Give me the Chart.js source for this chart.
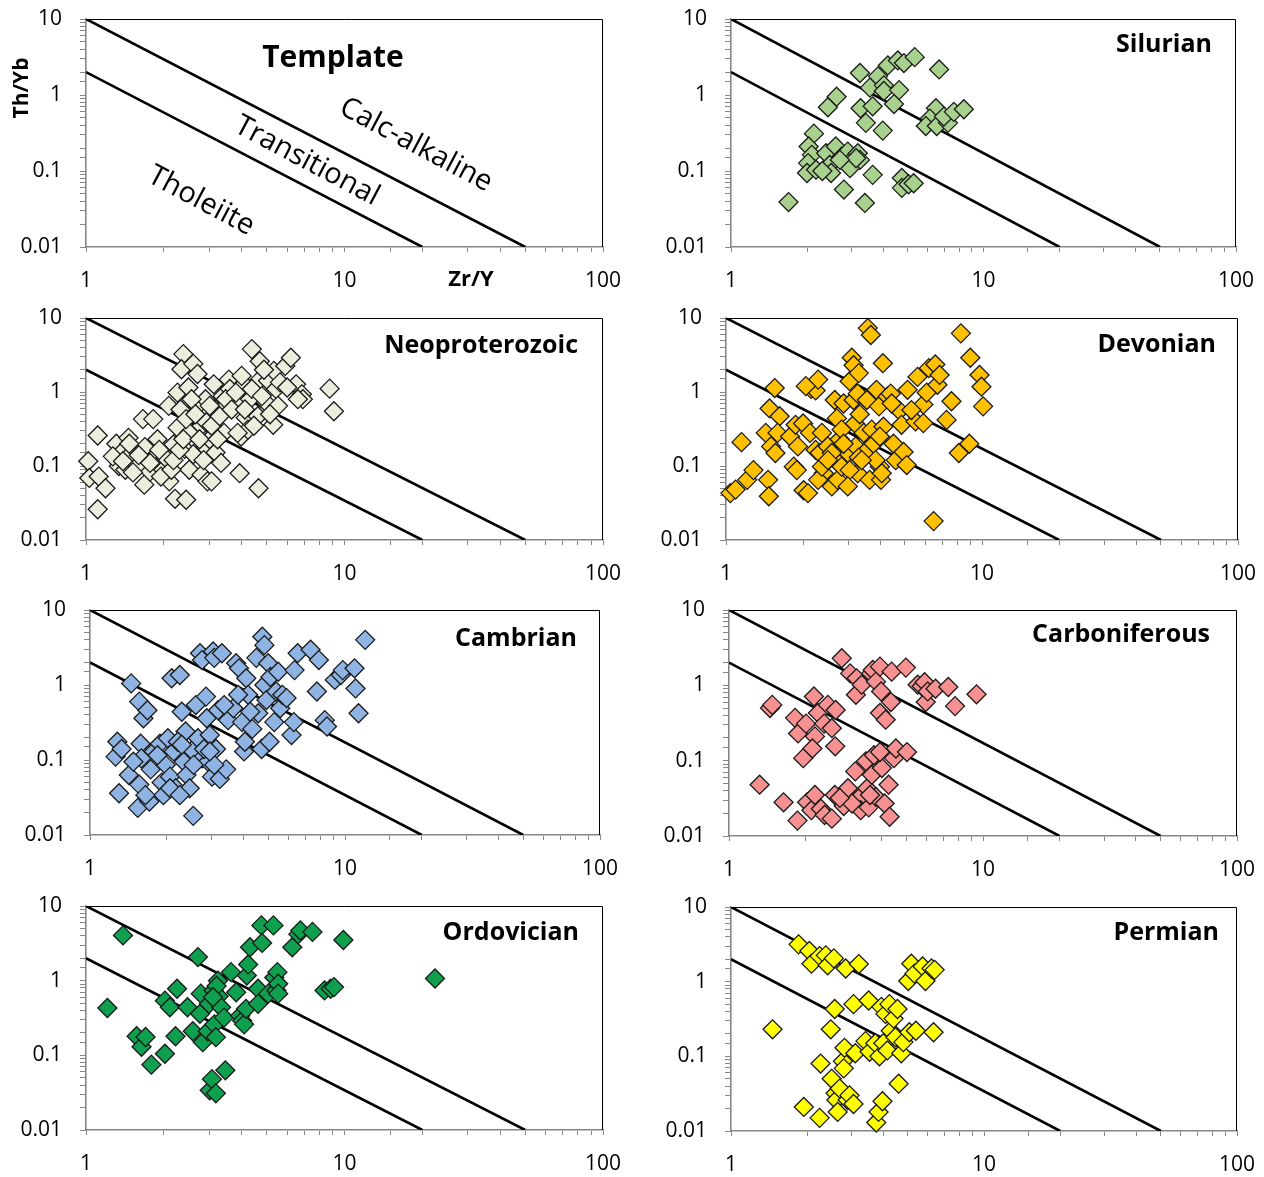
<!DOCTYPE html>
<html>
<head>
<meta charset="utf-8">
<title>Th/Yb vs Zr/Y discrimination diagrams</title>
<script src="https://cdn.jsdelivr.net/npm/chart.js@4/dist/chart.umd.min.js"></script>
<style>
  html, body { margin: 0; padding: 0; background: #ffffff; }
  body { width: 1264px; height: 1177px; position: relative; overflow: hidden; }
  canvas { position: absolute; }
</style>
</head>
<body>
<script>
// ---- Data: [Zr/Y, Th/Yb] pairs per period ----
const silurian = [[1.69,0.039],[3.24,1.95],[4.18,2.45],[4.58,2.85],[4.84,2.63],[5.34,3.15],[6.67,2.17],[3.82,1.76],[3.55,1.25],[4.03,1.34],[4.03,1.13],[4.63,1.16],[2.62,0.95],[2.42,0.69],[3.26,0.67],[3.64,0.71],[4.42,0.76],[3.42,0.43],[3.99,0.34],[6.48,0.67],[6.13,0.49],[5.91,0.39],[6.53,0.39],[7.23,0.43],[6.97,0.52],[7.63,0.60],[8.36,0.65],[2.13,0.31],[2.03,0.21],[2.09,0.163],[2.02,0.127],[2.0,0.094],[2.17,0.104],[2.38,0.171],[2.60,0.21],[2.46,0.12],[2.49,0.094],[2.75,0.155],[2.90,0.18],[3.01,0.14],[3.18,0.171],[3.24,0.14],[2.96,0.109],[2.80,0.057],[3.39,0.038],[3.64,0.089],[4.75,0.081],[4.75,0.060],[5.05,0.067],[5.29,0.069],[3.13,0.147],[2.70,0.14],[2.30,0.10]];

const neoproterozoic = [[1.02,0.116],[1.03,0.069],[1.11,0.258],[1.12,0.072],[1.19,0.050],[1.11,0.026],[1.31,0.20],[1.34,0.10],[1.37,0.152],[1.42,0.089],[1.46,0.24],[1.51,0.152],[1.58,0.10],[1.66,0.43],[1.82,0.43],[1.69,0.18],[1.68,0.056],[1.77,0.084],[1.85,0.135],[1.89,0.23],[1.99,0.089],[2.03,0.129],[2.09,0.65],[2.10,0.062],[2.18,0.195],[2.26,0.33],[2.26,0.98],[2.32,0.58],[2.21,0.036],[2.44,0.035],[2.38,3.25],[2.34,2.03],[2.6,2.4],[2.49,1.15],[2.51,0.28],[2.41,0.17],[2.51,0.089],[2.6,0.144],[2.7,1.75],[2.7,0.65],[2.8,0.35],[2.8,0.076],[2.9,0.80],[2.92,0.39],[2.9,0.18],[2.95,0.062],[3.06,0.062],[3.01,0.23],[3.12,1.27],[3.17,0.58],[3.17,0.152],[3.33,0.11],[3.38,0.88],[3.44,0.62],[3.42,0.28],[3.57,1.47],[3.6,1.1],[3.86,0.80],[3.98,0.25],[3.93,0.080],[4.08,1.27],[4.15,0.45],[4.23,0.31],[4.31,0.80],[4.38,3.8],[4.70,2.6],[4.62,0.47],[4.65,0.050],[4.70,1.47],[5.06,1.42],[4.97,0.72],[5.33,1.93],[5.43,1.1],[5.53,0.65],[5.3,0.36],[5.9,2.25],[6.2,2.9],[6.5,1.27],[6.84,0.93],[6.9,0.80],[8.76,1.11],[9.1,0.55],[1.27,0.135],[1.39,0.116],[1.47,0.2],[1.52,0.082],[1.6,0.14],[1.77,0.11],[1.92,0.165],[1.95,0.072],[2.14,0.089],[2.18,0.12],[2.3,0.165],[2.38,0.23],[2.44,0.43],[2.56,0.8],[2.65,0.5],[2.75,0.23],[2.85,0.12],[3.01,0.65],[3.06,0.35],[3.23,0.23],[3.29,0.47],[3.47,0.8],[3.66,0.58],[3.8,0.98],[3.86,0.28],[4.0,1.65],[4.12,0.58],[4.38,1.1],[4.46,0.35],[4.79,0.88],[4.88,2.0],[5.15,0.5],[5.63,1.35],[6.0,1.15],[6.6,0.8]];

const devonian = [[1.04,0.043],[1.09,0.048],[1.15,0.21],[1.21,0.065],[1.28,0.088],[1.43,0.28],[1.46,0.065],[1.47,0.039],[1.48,0.6],[1.5,0.184],[1.55,1.13],[1.56,0.15],[1.62,0.47],[1.59,0.28],[1.78,0.25],[1.87,0.36],[1.91,0.184],[1.84,0.098],[1.89,0.088],[2.0,0.375],[2.01,0.047],[2.09,0.043],[2.13,0.28],[2.15,1.1],[2.24,1.05],[2.29,1.47],[2.24,0.165],[2.32,0.15],[2.37,0.28],[2.41,0.08],[2.29,0.065],[2.5,0.184],[2.59,0.053],[2.66,0.78],[2.71,0.44],[2.68,0.12],[2.73,0.065],[2.78,0.23],[2.83,0.31],[2.83,0.098],[2.88,0.7],[2.99,0.15],[3.04,1.4],[3.1,2.9],[3.15,2.3],[3.15,0.78],[3.19,0.375],[3.21,0.184],[3.27,0.08],[3.27,0.95],[3.33,0.5],[3.3,1.8],[3.45,0.28],[3.47,0.15],[3.55,0.78],[3.58,7.3],[3.68,5.9],[3.64,0.065],[3.71,0.31],[3.77,0.2],[3.87,1.07],[3.96,0.64],[3.99,0.098],[4.03,0.065],[4.1,2.45],[4.12,0.34],[4.28,0.87],[4.4,0.95],[4.51,0.2],[4.6,0.12],[4.76,0.56],[4.85,0.36],[4.94,0.155],[5.08,0.103],[5.12,1.07],[5.5,0.4],[5.6,1.6],[5.9,0.68],[6.08,0.98],[6.2,2.1],[6.47,0.018],[6.57,2.35],[6.7,1.25],[6.83,1.7],[7.27,0.42],[7.6,0.75],[8.12,0.15],[8.27,6.2],[8.92,0.2],[9.0,2.9],[9.78,1.7],[9.95,1.18],[10.1,0.64],[2.59,0.15],[2.88,0.2],[3.04,0.088],[3.3,0.13],[2.99,0.053],[2.37,0.098],[2.5,0.12],[4.06,0.08],[3.84,0.12],[4.44,0.7],[3.39,0.12],[3.99,0.25],[2.05,1.2],[5.9,0.38],[5.3,0.57]];

const cambrian = [[1.26,0.111],[1.28,0.175],[1.30,0.036],[1.42,0.063],[1.33,0.14],[1.45,1.05],[1.54,0.023],[1.56,0.6],[1.56,0.047],[1.58,0.165],[1.59,0.105],[1.62,0.36],[1.68,0.46],[1.71,0.028],[1.73,0.075],[1.78,0.13],[1.88,0.165],[1.91,0.05],[1.94,0.034],[1.98,0.086],[2.02,0.195],[2.06,0.06],[2.09,1.23],[2.13,0.13],[2.17,0.042],[2.25,1.36],[2.29,0.44],[2.33,0.095],[2.37,0.24],[2.39,0.063],[2.46,0.042],[2.51,0.135],[2.54,0.018],[2.6,0.54],[2.65,0.195],[2.70,2.65],[2.75,2.15],[2.75,0.105],[2.85,0.7],[2.87,0.36],[2.9,0.095],[2.95,0.215],[3.01,0.06],[3.04,2.8],[3.07,2.3],[3.12,0.14],[3.18,0.46],[3.23,0.056],[3.29,2.65],[3.42,0.075],[3.48,0.34],[3.65,0.49],[3.74,1.95],[3.84,1.67],[3.95,0.32],[4.02,0.13],[4.05,0.175],[4.1,1.23],[4.17,0.74],[4.33,0.26],[4.49,2.3],[4.57,0.42],[4.71,0.14],[4.74,4.4],[4.83,3.4],[4.83,1.0],[4.92,0.63],[5.0,1.95],[5.06,0.175],[5.1,1.28],[5.28,0.32],[5.37,0.82],[5.47,1.5],[5.57,0.49],[5.68,0.74],[5.9,0.67],[6.17,0.215],[6.3,0.32],[6.34,1.58],[6.52,2.65],[7.33,2.95],[7.76,0.82],[7.9,2.15],[8.33,0.34],[8.5,0.28],[9.12,1.17],[9.63,1.36],[9.8,1.58],[10.9,1.67],[11.0,0.9],[11.3,0.42],[12.0,4.0],[1.48,0.095],[1.84,0.116],[2.21,0.175],[2.29,0.16],[2.8,0.14],[3.07,0.086],[3.36,0.54],[3.81,0.74],[4.25,0.44],[1.65,0.034],[2.06,0.042],[2.25,0.034],[2.95,0.13],[2.55,0.086]];

const carboniferous = [[1.32,0.048],[1.45,0.50],[1.48,0.55],[1.64,0.028],[1.82,0.37],[1.87,0.23],[1.86,0.016],[1.96,0.108],[2.01,0.31],[2.03,0.028],[2.11,0.022],[2.16,0.71],[2.18,0.035],[2.18,0.21],[2.13,0.145],[2.24,0.43],[2.30,0.023],[2.37,0.31],[2.38,0.019],[2.45,0.55],[2.54,0.27],[2.54,0.017],[2.62,0.155],[2.63,0.47],[2.61,0.035],[2.78,2.29],[2.83,0.025],[2.94,0.043],[3.0,1.44],[3.14,0.072],[3.16,0.75],[3.18,1.24],[3.25,0.032],[3.3,0.022],[3.33,1.02],[3.46,0.098],[3.5,0.043],[3.55,0.024],[3.63,1.44],[3.65,0.065],[3.68,1.6],[3.72,0.118],[3.79,1.12],[3.79,0.033],[3.93,0.43],[3.93,1.77],[3.97,0.83],[4.0,0.08],[4.1,0.027],[4.14,0.35],[4.25,0.048],[4.29,0.018],[4.34,0.6],[4.37,1.52],[4.46,0.108],[4.54,0.145],[4.97,1.72],[5.02,0.13],[5.53,1.02],[5.74,0.97],[5.89,1.1],[5.95,0.6],[6.06,0.83],[6.5,0.9],[7.3,0.95],[7.76,0.53],[9.43,0.76],[3.93,0.13],[3.05,0.027],[3.59,0.035],[2.73,0.032]];

const ordovician = [[1.21,0.43],[1.39,4.04],[1.57,0.18],[1.64,0.13],[1.70,0.176],[1.79,0.075],[2.02,0.105],[2.02,0.54],[2.11,0.44],[2.25,0.78],[2.22,0.18],[2.47,0.44],[2.59,0.21],[2.71,2.07],[2.78,0.67],[2.76,0.36],[2.83,0.15],[2.96,0.21],[2.99,0.49],[3.01,0.034],[3.07,0.048],[3.12,0.74],[3.14,0.26],[3.18,0.175],[3.18,0.031],[3.24,1.0],[3.26,0.62],[3.33,0.44],[3.42,0.32],[3.46,0.063],[3.64,1.3],[3.81,0.7],[3.95,0.34],[4.02,0.29],[4.09,0.26],[4.16,0.42],[4.19,1.17],[4.24,1.65],[4.31,2.8],[4.63,0.78],[4.63,0.49],[4.77,5.5],[4.8,3.2],[5.07,0.67],[5.31,5.5],[5.35,1.1],[5.45,0.74],[5.5,1.3],[5.54,0.91],[5.54,0.67],[6.28,2.8],[6.63,4.2],[6.75,4.7],[7.52,4.5],[8.37,0.74],[8.84,0.78],[9.11,0.82],[9.9,3.5],[22.4,1.07],[3.2,0.85],[3.1,0.6]];

const permian = [[1.46,0.23],[1.85,3.16],[1.94,0.021],[2.04,2.58],[2.08,1.74],[2.24,2.2],[2.24,0.015],[2.26,0.080],[2.37,2.25],[2.41,1.66],[2.48,0.23],[2.5,0.05],[2.55,2.05],[2.57,0.43],[2.59,0.032],[2.61,0.026],[2.64,0.018],[2.69,0.037],[2.77,0.086],[2.79,0.069],[2.81,0.13],[2.84,1.5],[2.89,0.026],[2.94,0.03],[3.05,0.023],[3.05,0.5],[3.1,0.11],[3.2,1.72],[3.4,0.16],[3.5,0.56],[3.53,0.115],[3.72,0.15],[3.75,0.013],[3.83,0.018],[3.86,0.1],[3.93,0.46],[3.97,0.025],[4.0,0.15],[4.08,0.37],[4.15,0.12],[4.23,0.5],[4.28,0.22],[4.39,0.32],[4.47,0.18],[4.55,0.43],[4.6,0.043],[4.71,0.11],[4.8,0.155],[5.02,1.02],[5.07,0.21],[5.16,1.74],[5.31,1.28],[5.38,0.22],[5.72,1.6],[5.87,1.02],[6.2,1.5],[6.38,1.44],[6.32,0.21]];

// Field boundaries (Zr/Y, Th/Yb end points)
const calcAlkalineBoundary = [[1,10],[50,0.01]];
const tholeiiteBoundary = [[1,2],[20,0.01]];

// Axis ticks
const xTickValues = [1, 10, 100];
const xTickLabels = ['1', '10', '100'];
const yTickValues = [0.01, 0.1, 1, 10];
const yTickLabels = ['0.01', '0.1', '1', '10'];

// ---- Layout and styling ----
const AXIS_W = 86, PAD_T = 32, PAD_R = 40, AXIS_H = 52;
const FONT = "'Open Sans', 'DejaVu Sans', sans-serif";
const AXIS_GREY = '#868686';

const panels = [
  { series: null, title: null, color: null, L: 86, R: 603, T: 19, B: 247 },
  { series: silurian, title: 'Silurian', color: '#A9D18E', L: 731, R: 1236, T: 19, B: 247, tR: 24, tY: 26 },
  { series: neoproterozoic, title: 'Neoproterozoic', color: '#EBEEDD', L: 86, R: 603, T: 318, B: 540, tR: 25, tY: 28 },
  { series: devonian, title: 'Devonian', color: '#FFC000', L: 726, R: 1238, T: 318, B: 540, tR: 22, tY: 27 },
  { series: cambrian, title: 'Cambrian', color: '#8FB4E3', L: 90, R: 600, T: 610, B: 835, tR: 23, tY: 29 },
  { series: carboniferous, title: 'Carboniferous', color: '#F79191', L: 729, R: 1237, T: 610, B: 836, tR: 27, tY: 25 },
  { series: ordovician, title: 'Ordovician', color: '#0EA04E', L: 86, R: 603, T: 906, B: 1130, tR: 24, tY: 27 },
  { series: permian, title: 'Permian', color: '#FFFF00', L: 731, R: 1237, T: 907, B: 1131, tR: 18, tY: 26 }
];

// Text drawn inside the template panel, positioned relative to the plot area
const templateTexts = [
  { text: 'Template', dx: 247, dy: 39, font: 'bold 30px ' + FONT, angle: 0 },
  { text: 'Calc-alkaline', dx: 330, dy: 126, font: '29px ' + FONT, angle: 28 },
  { text: 'Transitional', dx: 221, dy: 142, font: '29px ' + FONT, angle: 28 },
  { text: 'Tholeiite', dx: 115, dy: 182, font: '29px ' + FONT, angle: 28 },
  { text: 'Th/Yb', dx: -64, dy: 69, font: 'bold 21px ' + FONT, angle: -90 },
  { text: 'Zr/Y', dx: 385, dy: 261, font: 'bold 22px ' + FONT, angle: 0 }
];

function toPoints(pairs) {
  return pairs.map(p => ({ x: p[0], y: p[1] }));
}

function tickLabel(value, values, labels) {
  for (let i = 0; i < values.length; i++) {
    if (Math.abs(Math.log10(value) - Math.log10(values[i])) < 1e-6) return labels[i];
  }
  return '';
}

function framePlugin(panel) {
  return {
    id: 'frame',
    beforeDatasetsDraw(chart) {
      const { ctx, chartArea: a } = chart;
      ctx.save();
      ctx.strokeStyle = '#000000';
      ctx.lineWidth = 1;
      ctx.beginPath();
      ctx.moveTo(a.left, a.top + 0.5);
      ctx.lineTo(a.right - 0.5, a.top + 0.5);
      ctx.lineTo(a.right - 0.5, a.bottom);
      ctx.stroke();
      ctx.restore();
    },
    afterDraw(chart) {
      const { ctx, chartArea: a } = chart;
      ctx.save();
      ctx.fillStyle = '#000000';
      ctx.textBaseline = 'middle';
      if (panel.title) {
        ctx.font = 'bold 25px ' + FONT;
        ctx.textAlign = 'right';
        ctx.fillText(panel.title, a.right - panel.tR, a.top + panel.tY);
      } else {
        ctx.textAlign = 'center';
        templateTexts.forEach(t => {
          ctx.save();
          ctx.translate(a.left + t.dx, a.top + t.dy);
          ctx.rotate(t.angle * Math.PI / 180);
          ctx.font = t.font;
          ctx.fillText(t.text, 0, 0);
          ctx.restore();
        });
      }
      ctx.restore();
    }
  };
}

Chart.defaults.font.family = FONT;

panels.forEach(panel => {
  const w = AXIS_W + (panel.R - panel.L) + PAD_R;
  const h = PAD_T + (panel.B - panel.T) + AXIS_H;
  const canvas = document.createElement('canvas');
  canvas.width = w;
  canvas.height = h;
  canvas.style.left = (panel.L - AXIS_W) + 'px';
  canvas.style.top = (panel.T - PAD_T) + 'px';
  canvas.style.width = w + 'px';
  canvas.style.height = h + 'px';
  document.body.appendChild(canvas);

  const datasets = [];
  if (panel.series) {
    datasets.push({
      label: panel.title,
      data: toPoints(panel.series),
      showLine: false,
      pointStyle: 'rectRot',
      pointRadius: 9.5,
      pointBackgroundColor: panel.color,
      pointBorderColor: '#1a1a1a',
      pointBorderWidth: 1.3,
      clip: false,
      order: 0
    });
  }
  [calcAlkalineBoundary, tholeiiteBoundary].forEach((line, i) => {
    datasets.push({
      label: i === 0 ? 'Calc-alkaline / Transitional' : 'Transitional / Tholeiite',
      data: toPoints(line),
      showLine: true,
      borderColor: '#000000',
      borderWidth: 2.6,
      pointRadius: 0,
      fill: false,
      order: 1
    });
  });

  const tickFont = { family: FONT, size: 21 };

  new Chart(canvas, {
    type: 'scatter',
    data: { datasets },
    plugins: [framePlugin(panel)],
    options: {
      responsive: false,
      animation: false,
      devicePixelRatio: 1,
      events: [],
      layout: { padding: { top: PAD_T, right: PAD_R, left: 0, bottom: 0 } },
      plugins: { legend: { display: false }, tooltip: { enabled: false } },
      scales: {
        x: {
          type: 'logarithmic',
          position: 'bottom',
          min: 1,
          max: 100,
          border: { display: true, color: AXIS_GREY, width: 1.6 },
          grid: { display: true, drawOnChartArea: false, drawTicks: true, tickLength: 5, color: AXIS_GREY, lineWidth: 1 },
          ticks: {
            autoSkip: false, maxRotation: 0, minRotation: 0, padding: 16,
            color: '#000000', font: tickFont,
            callback: v => tickLabel(v, xTickValues, xTickLabels)
          },
          afterFit(scale) { scale.height = AXIS_H; }
        },
        y: {
          type: 'logarithmic',
          position: 'left',
          min: 0.01,
          max: 10,
          border: { display: true, color: AXIS_GREY, width: 1.6 },
          grid: { display: true, drawOnChartArea: false, drawTicks: true, tickLength: 6, color: AXIS_GREY, lineWidth: 1 },
          ticks: {
            autoSkip: false, padding: 18,
            color: '#000000', font: tickFont,
            callback: v => tickLabel(v, yTickValues, yTickLabels)
          },
          afterFit(scale) { scale.width = AXIS_W; }
        }
      }
    }
  });
});
</script>
</body>
</html>
